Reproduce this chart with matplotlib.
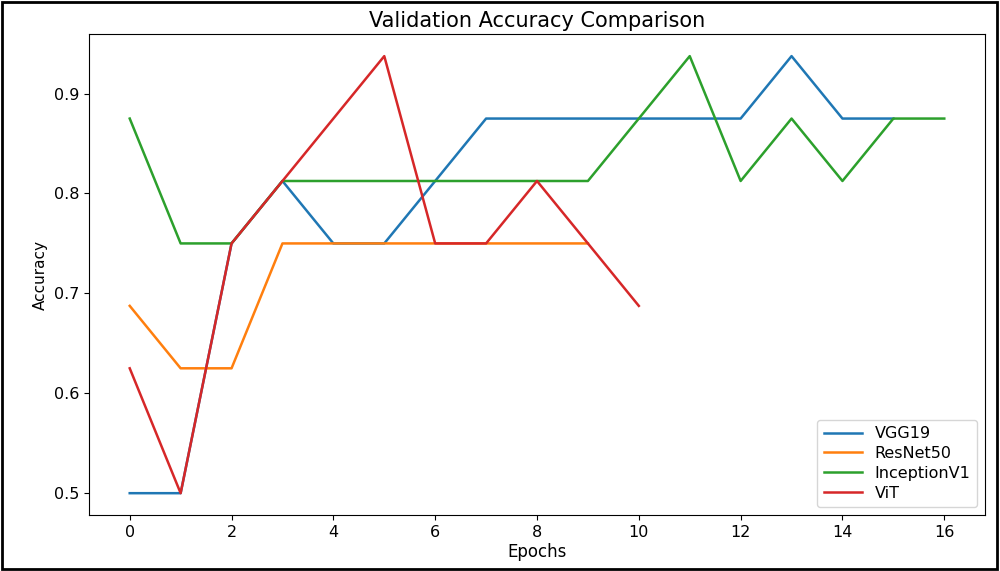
import matplotlib
matplotlib.use('Agg')
import matplotlib.pyplot as plt
import matplotlib.patches as patches

# validation accuracy per epoch
vgg19 = [0.5, 0.5, 0.75, 0.8125, 0.75, 0.75, 0.8125, 0.875, 0.875, 0.875,
         0.875, 0.875, 0.875, 0.9375, 0.875, 0.875]
resnet50 = [0.6875, 0.625, 0.625, 0.75, 0.75, 0.75, 0.75, 0.75, 0.75, 0.75]
inception_v1 = [0.875, 0.75, 0.75, 0.8125, 0.8125, 0.8125, 0.8125, 0.8125, 0.8125,
                0.8125, 0.875, 0.9375, 0.8125, 0.875, 0.8125, 0.875, 0.875]
vit = [0.625, 0.5, 0.75, 0.8125, 0.875, 0.9375, 0.75, 0.75, 0.8125, 0.75, 0.6875]

series = [('VGG19', vgg19), ('ResNet50', resnet50),
          ('InceptionV1', inception_v1), ('ViT', vit)]

fig = plt.figure(figsize=(10, 5.71), dpi=100)
ax = fig.add_subplot(111)
plt.subplots_adjust(left=0.089, right=0.985, top=0.940, bottom=0.098)

for name, acc in series:
    ax.plot(range(len(acc)), acc, label=name, linewidth=1.8)

ax.set_title('Validation Accuracy Comparison', fontsize=15, pad=5)
ax.set_xlabel('Epochs', fontsize=12, labelpad=2)
ax.set_ylabel('Accuracy', fontsize=11)
ax.set_xticks(range(0, 17, 2))
ax.tick_params(axis='both', labelsize=11.5)
ax.legend(loc='lower right', fontsize=11.5, labelspacing=0.3, handlelength=2.4)

# black frame around the whole picture
fig.patches.append(patches.Rectangle((0.002, 0.003), 0.995, 0.994, transform=fig.transFigure,
                                     fill=False, edgecolor='black', linewidth=2))

plt.savefig('out.png', dpi=100)
